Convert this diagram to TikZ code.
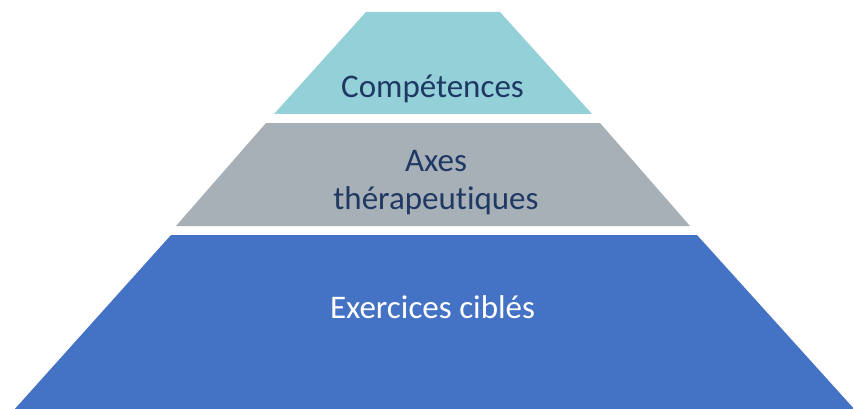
\documentclass[tikz,border=0pt]{standalone}
\usepackage{fontspec}
\setmainfont[Ligatures=NoCommon]{Carlito}
\definecolor{tealc}{RGB}{147,208,216}
\definecolor{greyc}{RGB}{166,176,182}
\definecolor{bluec}{RGB}{68,114,196}
\definecolor{navyc}{RGB}{31,56,100}
\begin{document}
\begin{tikzpicture}[x=1pt,y=-1pt,
  lbl/.style={font=\fontsize{33}{38}\selectfont, align=center, inner sep=0pt, anchor=base}]
\useasboundingbox (0,0) rectangle (853,409);
\fill[white] (0,0) rectangle (853,409);
\fill[tealc] (366,12) -- (500,12) -- (592,114) -- (274,114) -- cycle;
\fill[greyc] (266,123) -- (600,123) -- (690,226) -- (176,226) -- cycle;
\fill[bluec] (171,235) -- (697,235) -- (856,411) -- (13,411) -- cycle;
\node[lbl, text=navyc] (comp) at (432.5,98) {Compétences};
\node[lbl, text=navyc] (axes) at (436,209) {Axes\\thérapeutiques};
\node[lbl, text=white] (exer) at (432.5,318) {Exercices ciblés};
\end{tikzpicture}
\end{document}
